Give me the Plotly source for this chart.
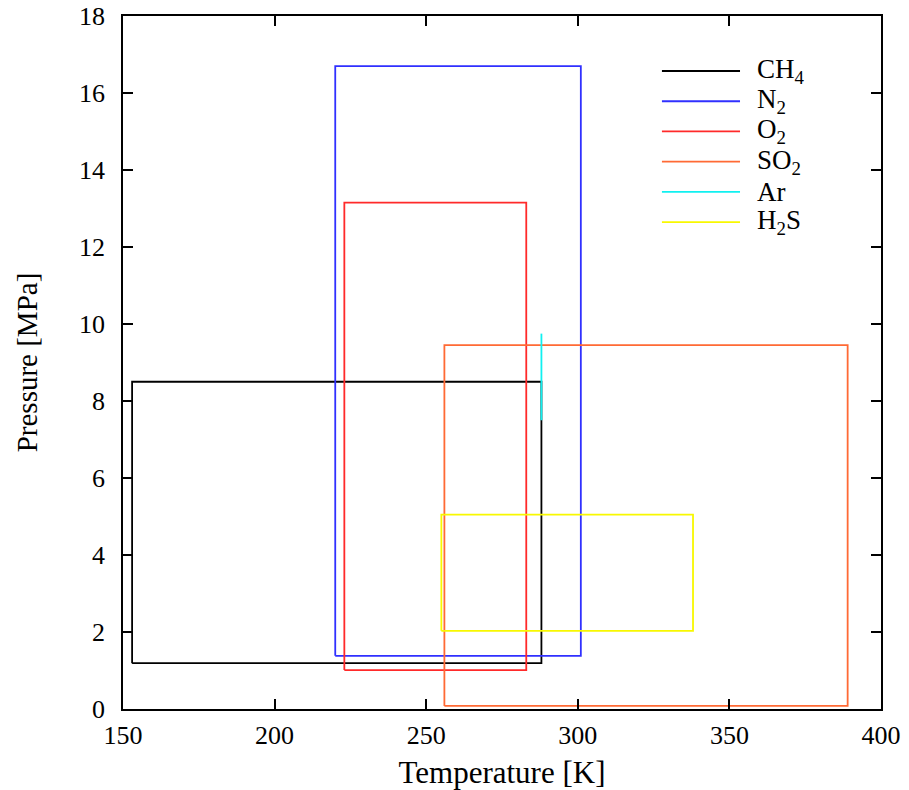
import plotly.graph_objects as go

# Data: operating windows per gas (temperature range [K], pressure range [MPa])
gases = ["CH<sub>4</sub>", "N<sub>2</sub>", "O<sub>2</sub>", "SO<sub>2</sub>", "Ar", "H<sub>2</sub>S"]
t_min = [153, 220, 223, 256, 288, 255]
t_max = [288, 301, 283, 389, 288, 338]
p_min = [1.19, 1.38, 1.01, 0.08, 7.5, 2.03]
p_max = [8.5, 16.7, 13.15, 9.45, 9.75, 5.05]
x_ticks = [150, 200, 250, 300, 350, 400]
y_ticks = [0, 2, 4, 6, 8, 10, 12, 14, 16, 18]

colors = ["#000000", "#3030ff", "#ff2a2a", "#ff6a35", "#10f0f0", "#f8f800"]
FONT = "Liberation Serif, Times New Roman, serif"

fig = go.Figure()
for name, x0, x1, y0, y1, c in zip(gases, t_min, t_max, p_min, p_max, colors):
    if x0 == x1:
        xs, ys = [x0, x0], [y0, y1]
    else:
        xs = [x0, x1, x1, x0, x0]
        ys = [y0, y0, y1, y1, y0]
    fig.add_trace(go.Scatter(x=xs, y=ys, mode="lines", name=name,
                             line=dict(color=c, width=1.8), showlegend=False))

# Manual legend (long line samples like the reference)
lx0, lx1, tx = 0.711, 0.814, 0.834
ytop, dy = 0.9206, 0.0436
for i, (name, c) in enumerate(zip(gases, colors)):
    yy = ytop - i * dy
    fig.add_shape(type="line", xref="paper", yref="paper", x0=lx0, x1=lx1, y0=yy, y1=yy,
                  line=dict(color=c, width=1.8))
    fig.add_annotation(xref="paper", yref="paper", x=tx, y=yy, text=name, showarrow=False,
                       xanchor="left", yanchor="middle", yshift=0,
                       font=dict(family=FONT, size=27, color="#000"))

axis_common = dict(showgrid=False, zeroline=False, showline=True, linecolor="#000", linewidth=1.6,
                   mirror="allticks", ticks="inside", ticklen=10, tickwidth=1.6, tickcolor="#000",
                   automargin=False, ticklabeloverflow="allow",
                   tickfont=dict(family=FONT, size=26, color="#000"))
fig.update_xaxes(range=[150, 400], tickvals=x_ticks, ticktext=[str(v) for v in x_ticks],
                 title=dict(text="Temperature [K]", font=dict(family=FONT, size=31, color="#000"), standoff=12),
                 ticklabelstandoff=2, **axis_common)
fig.update_yaxes(range=[0, 18], tickvals=y_ticks, ticktext=[str(v) for v in y_ticks],
                 title=dict(text="Pressure [MPa]", font=dict(family=FONT, size=29, color="#000"), standoff=33),
                 ticklabelstandoff=11, **axis_common)
fig.update_layout(width=901, height=782, margin=dict(l=115, r=28, t=8, b=81),
                  font=dict(family=FONT, color="#000"),
                  plot_bgcolor="white", paper_bgcolor="white", showlegend=False)
fig.write_html("out.html")
